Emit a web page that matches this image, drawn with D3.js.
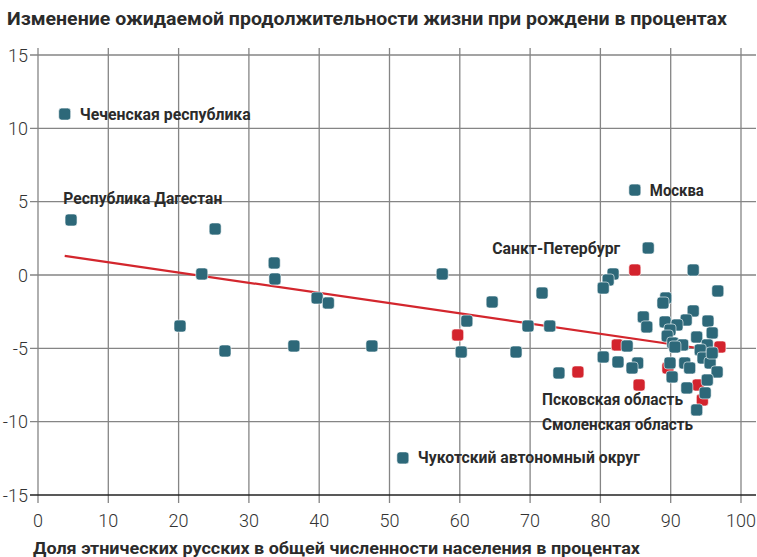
<!DOCTYPE html>
<html>
<head>
<meta charset="utf-8">
<script src="https://cdn.jsdelivr.net/npm/d3@7"></script>
<style>
  body { margin: 0; background: #fff; }
  svg { display: block; font-family: Roboto, "Noto Sans", sans-serif; }
  .grid line { stroke: #858585; stroke-width: 1.3; }
  .tick-label { font-weight: 300; font-size: 18px; fill: #333; }
  .lbl { font-weight: 700; font-size: 16px; fill: #2b2b2b; }
</style>
</head>
<body>
<svg class="chart"></svg>
<script>
// tick values
var xTicks = [0, 10, 20, 30, 40, 50, 60, 70, 80, 90, 100];
var yTicks = [15, 10, 5, 0, -5, -10, -15];

// regions, share of ethnic Russians (x) vs life expectancy change (y)
var tealX = [3.8, 4.7, 25.2, 20.2, 23.3, 26.6, 33.6, 33.7, 36.4, 39.7, 41.3, 47.5, 57.5, 60.2, 61.0, 64.6,
             68.0, 69.7, 71.7, 72.8, 74.1, 51.9, 84.9, 86.8,
             81.8, 81.1, 80.4, 93.2, 96.7, 89.3, 88.9, 86.1, 86.6, 93.2, 92.2, 95.3, 89.2, 90.9, 89.9, 95.9,
             89.5, 93.7, 90.3, 91.7, 95.2, 94.2, 90.6, 94.6, 95.6, 89.9, 92.0, 92.7, 96.6, 90.2, 95.2, 92.3,
             94.9, 93.7, 83.8, 80.4, 82.5, 85.3, 84.5, 95.9];
var tealY = [10.97, 3.75, 3.14, -3.48, 0.07, -5.18, 0.82, -0.27, -4.84, -1.57, -1.91, -4.84, 0.07, -5.25, -3.14, -1.84,
             -5.25, -3.48, -1.23, -3.48, -6.68, -12.47, 5.79, 1.84,
             0.07, -0.34, -0.89, 0.34, -1.09, -1.57, -1.91, -2.86, -3.54, -2.45, -3.07, -3.14, -3.2, -3.41, -3.75, -3.95,
             -4.16, -4.23, -4.64, -4.77, -4.77, -5.11, -4.91, -5.66, -6.0, -6.0, -6.0, -6.34, -6.61, -6.95, -7.16, -7.7,
             -8.04, -9.2, -4.84, -5.59, -5.93, -6.0, -6.34, -5.32];
var redX = [59.7, 76.8, 84.9, 82.4, 85.5, 89.6, 93.9, 94.5, 97.0];
var redY = [-4.09, -6.61, 0.34, -4.77, -7.5, -6.34, -7.5, -8.52, -4.91];

// trend line end points
var trendX = [3.8, 97];
var trendY = [1.3, -5.2];

// labelled regions: name, x, y, anchor side
var labelNames = ["Чеченская республика", "Республика Дагестан", "Москва", "Санкт-Петербург",
                  "Псковская область", "Смоленская область", "Чукотский автономный округ"];
var labelX = [3.8, 3.6, 84.9, 86.8, 71.7, 71.7, 51.9];
var labelY = [10.97, 5.2, 5.79, 1.84, -8.5, -10.2, -12.47];
var labelSide = ["right", "text", "right", "left", "text", "text", "right"];
var labelWidths = [171, 159, 54, 128, 141, 151, 222];

var W = 757, H = 557;
var svg = d3.select(".chart").attr("width", W).attr("height", H);

var x = d3.scaleLinear().domain([0, 100]).range([38, 741]);
var y = d3.scaleLinear().domain([-15, 15]).range([495, 55]);

svg.append("text")
    .attr("x", 7).attr("y", 25)
    .attr("class", "lbl")
    .style("font-size", "18px")
    .attr("textLength", 720).attr("lengthAdjust", "spacingAndGlyphs")
    .text("Изменение ожидаемой продолжительности жизни при рождени в процентах");

var grid = svg.append("g").attr("class", "grid");
grid.selectAll(".v").data(xTicks).enter().append("line")
    .attr("class", "v")
    .attr("x1", function(d) { return x(d); }).attr("x2", function(d) { return x(d); })
    .attr("y1", y(15) - 7).attr("y2", y(-15) + 8);
grid.selectAll(".h").data(yTicks).enter().append("line")
    .attr("class", "h")
    .attr("x1", 30).attr("x2", 756)
    .attr("y1", function(d) { return y(d); }).attr("y2", function(d) { return y(d); })
    .style("stroke", function(d) { return d === -15 ? "#222" : null; });

svg.selectAll(".xl").data(xTicks).enter().append("text")
    .attr("class", "tick-label")
    .attr("x", function(d) { return x(d); })
    .attr("y", y(-15) + 32)
    .attr("text-anchor", "middle")
    .text(function(d) { return d; });
svg.selectAll(".yl").data(yTicks).enter().append("text")
    .attr("class", "tick-label")
    .attr("x", 28)
    .attr("y", function(d) { return y(d) + 6.5; })
    .attr("text-anchor", "end")
    .text(function(d) { return d < 0 ? "-" + Math.abs(d) : d; });

svg.append("line")
    .attr("x1", x(trendX[0])).attr("y1", y(trendY[0]))
    .attr("x2", x(trendX[1])).attr("y2", y(trendY[1]))
    .attr("stroke", "#d3262d").attr("stroke-width", 2.2);

var sq = 12;
function drawSquares(xs, ys, color) {
    svg.append("g").selectAll("rect")
        .data(d3.range(xs.length))
        .enter().append("rect")
        .attr("x", function(i) { return x(xs[i]) - sq / 2; })
        .attr("y", function(i) { return y(ys[i]) - sq / 2; })
        .attr("width", sq).attr("height", sq)
        .attr("rx", 3).attr("ry", 3)
        .attr("fill", color)
        .attr("stroke", "#fff").attr("stroke-width", 0.6);
}
drawSquares(redX, redY, "#d3232d");
drawSquares(tealX, tealY, "#2d6879");

svg.selectAll(".pl").data(labelNames).enter().append("text")
    .attr("class", "lbl")
    .attr("x", function(d, i) {
        var px = x(labelX[i]);
        if (labelSide[i] === "right") return px + 15;
        if (labelSide[i] === "left") return px - 28;
        return px;
    })
    .attr("y", function(d, i) { return y(labelY[i]) + 5.5; })
    .attr("text-anchor", function(d, i) { return labelSide[i] === "left" ? "end" : "start"; })
    .attr("textLength", function(d, i) { return labelWidths[i]; })
    .attr("lengthAdjust", "spacingAndGlyphs")
    .text(function(d) { return d; });

svg.append("text")
    .attr("x", 33).attr("y", 554)
    .attr("class", "lbl")
    .style("font-size", "17px")
    .attr("textLength", 607).attr("lengthAdjust", "spacingAndGlyphs")
    .text("Доля этнических русских в общей численности населения в процентах");
</script>
</body>
</html>
